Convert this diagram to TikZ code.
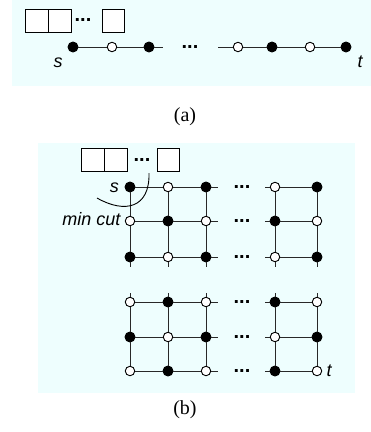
\documentclass[tikz,border=0pt]{standalone}
\usepackage{fontspec}
\setmainfont{Liberation Serif}
\setsansfont{Liberation Sans}
\definecolor{bgc}{RGB}{238,254,254}
\definecolor{lnc}{RGB}{40,40,40}
\tikzset{
  fnode/.style={circle,draw=black,fill=black,inner sep=0pt,minimum size=10pt,line width=0.9pt},
  onode/.style={circle,draw=black,fill=white,inner sep=0pt,minimum size=9.5pt,line width=0.9pt},
  cell/.style={rectangle,draw=black,fill=white,inner sep=0pt,minimum width=23pt,minimum height=23pt,line width=0.9pt},
  dotlab/.style={inner sep=0pt,font=\fontsize{20}{20}\sffamily\bfseries},
  lab/.style={inner sep=0pt,font=\fontsize{18}{18}\sffamily\itshape},
  captext/.style={inner sep=0pt,font=\fontsize{20}{20}\rmfamily},
  gline/.style={draw=lnc,line width=1pt},
}
\begin{document}
\begin{tikzpicture}[x=1pt,y=-1pt]
\useasboundingbox (0,0) rectangle (371,432);
% ---------- panel (a)
\fill[bgc] (12,0) rectangle (371,86);
\node[cell] (ab1) at (36.5,20.5) {};
\node[cell] (ab2) at (59.5,20.5) {};
\node[dotlab] (abd) at (83,20) {...};
\node[cell,minimum width=22pt] (ab3) at (113,20.5) {};
\node[fnode] (a1) at (73,47) {};
\node[onode] (a2) at (112,47) {};
\node[fnode] (a3) at (149,47) {};
\coordinate (a3e) at (163,47);
\node[dotlab] (ad) at (190,47) {...};
\coordinate (a4s) at (218,47);
\node[onode] (a4) at (238,47) {};
\node[fnode] (a5) at (272,47) {};
\node[onode] (a6) at (310,47) {};
\node[fnode] (a7) at (346,47) {};
\draw[gline] (a1) -- (a2) -- (a3) -- (a3e);
\draw[gline] (a4s) -- (a4) -- (a5) -- (a6) -- (a7);
\node[lab] (as) at (58,63) {s};
\node[lab] (at) at (360,62) {t};
\node[captext] (capa) at (185,117) {(a)};
% ---------- panel (b)
\fill[bgc] (38,143) rectangle (355,393);
\node[cell] (bb1) at (92.5,159.5) {};
\node[cell] (bb2) at (115.5,159.5) {};
\node[dotlab] (bbd) at (142,160) {...};
\node[cell,minimum width=22pt] (bb3) at (168,159.5) {};
% grid
\def\colx{{0,130,168,206,275,317}}
\def\rowy{{0,187,221,257,302,337,371}}
\foreach \r in {1,...,6}{
  \foreach \c in {1,...,5}{
    \pgfmathsetmacro{\xx}{\colx[\c]}
    \pgfmathsetmacro{\yy}{\rowy[\r]}
    \pgfmathtruncatemacro{\parity}{mod(\r+\c,2)}
    \ifnum\parity=0
      \node[fnode] (n\r\c) at (\xx,\yy) {};
    \else
      \node[onode] (n\r\c) at (\xx,\yy) {};
    \fi
  }
  \pgfmathsetmacro{\yy}{\rowy[\r]}
  \coordinate (re\r) at (218,\yy);
  \coordinate (ls\r) at (265,\yy);
  \node[dotlab] (gd\r) at (242,\yy) {...};
}
\foreach \c in {1,...,5}{
  \pgfmathsetmacro{\xx}{\colx[\c]}
  \coordinate (vb\c) at (\xx,267);
  \coordinate (vt\c) at (\xx,293);
}
% edges
\foreach \r in {1,...,6}{
  \draw[gline] (n\r1) -- (n\r2) -- (n\r3) -- (re\r);
  \draw[gline] (ls\r) -- (n\r4) -- (n\r5);
}
\foreach \c in {1,...,5}{
  \draw[gline] (n1\c) -- (n2\c) -- (n3\c) -- (vb\c);
  \draw[gline] (vt\c) -- (n4\c) -- (n5\c) -- (n6\c);
}
\node[lab] (bs) at (114.5,188) {s};
\node[lab,anchor=east] (bmc) at (120.5,219) {min cut};
\node[lab] (bt) at (329,371) {t};
\coordinate (cut1) at (97,198);
\coordinate (cut2) at (149,173);
\draw[black,line width=0.9pt] (cut1) .. controls (125,214) and (150,208) .. (cut2);
\node[captext] (capb) at (185,410) {(b)};
\end{tikzpicture}
\end{document}
